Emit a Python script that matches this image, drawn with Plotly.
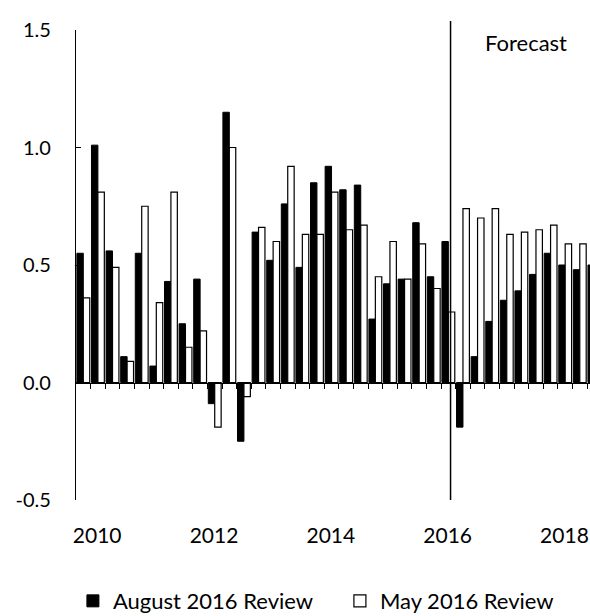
import plotly.graph_objects as go

# Quarterly categories 2010Q1 .. 2018Q4
quarters = [f"{y}Q{q}" for y in range(2010, 2019) for q in range(1, 5)]

august_2016 = [0.55, 1.01, 0.56, 0.11, 0.55, 0.07, 0.43, 0.25,
               0.44, -0.09, 1.15, -0.25, 0.64, 0.52, 0.76, 0.49,
               0.85, 0.92, 0.82, 0.84, 0.27, 0.42, 0.44, 0.68,
               0.45, 0.60, -0.19, 0.11, 0.26, 0.35, 0.39, 0.46,
               0.55, 0.50, 0.48, 0.50]
may_2016 = [0.36, 0.81, 0.49, 0.09, 0.75, 0.34, 0.81, 0.15,
            0.22, -0.19, 1.00, -0.06, 0.66, 0.60, 0.92, 0.63,
            0.63, 0.81, 0.65, 0.67, 0.45, 0.60, 0.44, 0.59,
            0.40, 0.30, 0.74, 0.70, 0.74, 0.63, 0.64, 0.65,
            0.67, 0.59, 0.59, None]

year_labels = ["2010", "2012", "2014", "2016", "2018"]
y_ticks = [-0.5, 0.0, 0.5, 1.0, 1.5]
y_tick_text = ["-0.5", "0.0", "0.5", "1.0", "1.5"]
forecast_quarter = "2016Q2"
series_names = ["August 2016 Review", "May 2016 Review"]

FONT = "Lato, 'Open Sans', sans-serif"
x = list(range(len(quarters)))

fig = go.Figure()
fig.add_trace(go.Bar(x=x, y=august_2016, name=series_names[0],
                     marker=dict(color="black", line=dict(color="black", width=1)),
                     customdata=quarters, hovertemplate="%{customdata}: %{y}<extra></extra>"))
fig.add_trace(go.Bar(x=x, y=may_2016, name=series_names[1],
                     marker=dict(color="white", line=dict(color="black", width=1.2)),
                     customdata=quarters, hovertemplate="%{customdata}: %{y}<extra></extra>"))

# invisible trace to activate the label axis
fig.add_trace(go.Scatter(x=[x[0]], y=[None], xaxis="x2", showlegend=False, hoverinfo="skip"))

xr = [-0.5, 34.7]
year_pos = [quarters.index(f"{y}Q1") + 0.95 for y in year_labels]
boundaries = [i + 0.5 for i in x]
fx = quarters.index(forecast_quarter) + 0.15

fig.update_layout(
    width=590, height=616,
    margin=dict(l=76, r=0, t=30, b=116, autoexpand=False),
    paper_bgcolor="white", plot_bgcolor="white",
    barmode="group", bargap=0.12, bargroupgap=0,
    font=dict(family=FONT, size=20, color="black"),
    showlegend=True,
    legend=dict(orientation="h", x=-0.006, xanchor="left", y=-0.215, yanchor="middle",
                font=dict(size=22, family=FONT), itemclick=False, traceorder="normal",
                entrywidth=222, entrywidthmode="pixels", borderwidth=0),
    xaxis=dict(range=xr, anchor="free", position=0.25, showline=True, linecolor="black",
               linewidth=1.3, tickmode="array", tickvals=boundaries, ticks="outside",
               ticklen=5, tickwidth=1.3, tickcolor="black", showticklabels=False,
               showgrid=False, zeroline=False, automargin=False),
    xaxis2=dict(range=xr, overlaying="x", anchor="y", side="bottom", showline=False,
                tickmode="array", tickvals=year_pos, ticktext=year_labels, ticks="",
                ticklabelstandoff=21, showgrid=False, zeroline=False, automargin=False,
                tickfont=dict(size=21, family=FONT)),
    yaxis=dict(range=[-0.5, 1.5], tickmode="array", tickvals=y_ticks, ticktext=y_tick_text,
               ticks="inside", ticklen=5, tickwidth=1.3, tickcolor="black",
               showline=True, linecolor="black", linewidth=1.3, showgrid=False,
               zeroline=False, ticklabelstandoff=20, automargin=False,
               tickfont=dict(size=20, family=FONT)),
    shapes=[dict(type="line", xref="x", yref="paper", x0=fx, x1=fx, y0=0, y1=1.019,
                 line=dict(color="black", width=1.5))],
    annotations=[dict(text="Forecast", xref="x", yref="paper", x=fx + 2.2, y=0.974,
                      xanchor="left", yanchor="middle", showarrow=False,
                      font=dict(size=22, family=FONT))],
)

fig.write_html("out.html", config={"displayModeBar": False},
               post_script="document.body.style.margin='0px';document.body.style.overflow='hidden';")
